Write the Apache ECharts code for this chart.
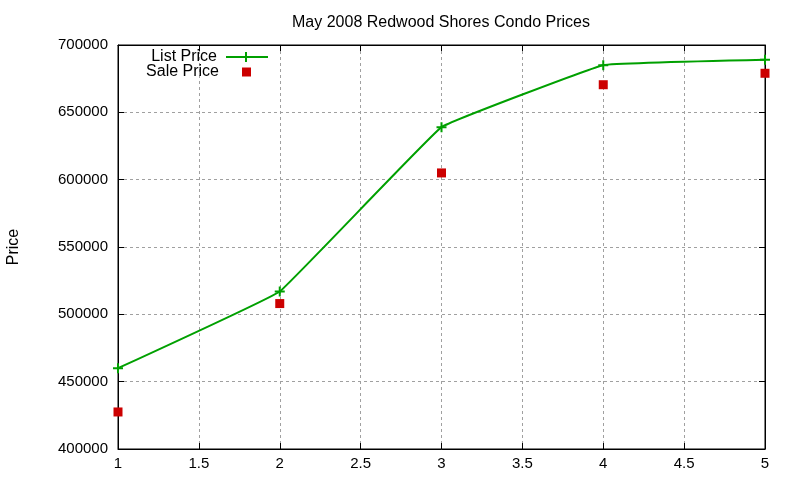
<!DOCTYPE html>
<html>
<head>
<meta charset="utf-8">
<script src="https://cdn.jsdelivr.net/npm/echarts@6/dist/echarts.min.js"></script>
<style>
	html, body { margin: 0; padding: 0; background: #fff; }
	#chart { width: 800px; height: 480px; }
</style>
</head>
<body>
<div id="chart"></div>
<script>
let months = [1, 2, 3, 4, 5];
let listPrice = [460000, 517000, 639000, 685000, 689000];
let salePrice = [427500, 508000, 605000, 670500, 679000];

let font = 'Liberation Sans, Arial, sans-serif';
// small "+" used by gnuplot for points
let plus = 'path://M4,0L6,0L6,4L10,4L10,6L6,6L6,10L4,10L4,6L0,6L0,4L4,4Z';
let plusLine = 'path://M0,4L19,4L19,0L21,0L21,4L42,4L42,6L21,6L21,10L19,10L19,6L0,6Z';

function pairs(xs, ys) {
	let out = [];
	for (let i = 0; i < xs.length; i++) {
		out.push([xs[i], ys[i]]);
	}
	return out;
}

let chart = echarts.init(document.getElementById('chart'));
let tickStyle = { show: true, inside: true, length: 6, lineStyle: { color: '#000' } };
let gridLine = { show: true, lineStyle: { color: '#a0a0a0', type: [3, 3], width: 1 } };

let option = {
	animation: false,
	textStyle: { fontFamily: font },
	title: {
		text: 'May 2008 Redwood Shores Condo Prices',
		left: 436,
		textAlign: 'center',
		top: 10,
		textStyle: { fontSize: 16, fontWeight: 'normal', color: '#000', fontFamily: font }
	},
	legend: [{
		data: [{ name: 'List Price', icon: plusLine }],
		orient: 'vertical',
		align: 'right',
		right: 527,
		top: 44,
		itemWidth: 42,
		itemHeight: 10,
		textStyle: { fontSize: 16, color: '#000', padding: [0, 4, 0, 0] }
	}, {
		data: [{ name: 'Sale Price', icon: 'rect' }],
		orient: 'vertical',
		align: 'right',
		right: 544,
		top: 59,
		itemWidth: 9,
		itemHeight: 9,
		textStyle: { fontSize: 16, color: '#000', padding: [0, 18, 0, 0] }
	}],
	grid: {
		left: 118,
		right: 35,
		top: 45,
		bottom: 31,
		outerBoundsMode: 'none',
		show: true,
		borderColor: '#000',
		borderWidth: 1
	},
	xAxis: [{
		type: 'value',
		min: 1,
		max: 5,
		interval: 0.5,
		axisLine: { show: true, lineStyle: { color: '#000' } },
		axisTick: tickStyle,
		axisLabel: { color: '#000', fontSize: 15, margin: 7 },
		splitLine: gridLine
	}, {
		type: 'value',
		position: 'top',
		min: 1,
		max: 5,
		interval: 0.5,
		axisLine: { show: true, lineStyle: { color: '#000' } },
		axisTick: tickStyle,
		axisLabel: { show: false },
		splitLine: { show: false }
	}],
	yAxis: [{
		type: 'value',
		min: 400000,
		max: 700000,
		interval: 50000,
		name: 'Price',
		nameLocation: 'middle',
		nameGap: 96,
		nameTextStyle: { fontSize: 16, color: '#000' },
		axisLine: { show: true, lineStyle: { color: '#000' } },
		axisTick: tickStyle,
		axisLabel: { color: '#000', fontSize: 15, margin: 10, formatter: function (v) { return String(v); } },
		splitLine: gridLine
	}, {
		type: 'value',
		position: 'right',
		min: 400000,
		max: 700000,
		interval: 50000,
		axisLine: { show: true, lineStyle: { color: '#000' } },
		axisTick: tickStyle,
		axisLabel: { show: false },
		splitLine: { show: false }
	}],
	series: [{
		name: 'List Price',
		type: 'line',
		data: pairs(months, listPrice),
		smooth: 0.06,
		symbol: plus,
		symbolSize: 10,
		showAllSymbol: true,
		lineStyle: { color: '#00a000', width: 2 },
		itemStyle: { color: '#00a000' },
		z: 3
	}, {
		name: 'Sale Price',
		type: 'scatter',
		data: pairs(months, salePrice),
		symbol: 'rect',
		symbolSize: 9,
		itemStyle: { color: '#cc0000', opacity: 1 },
		z: 4
	}]
};
chart.setOption(option);
</script>
</body>
</html>
